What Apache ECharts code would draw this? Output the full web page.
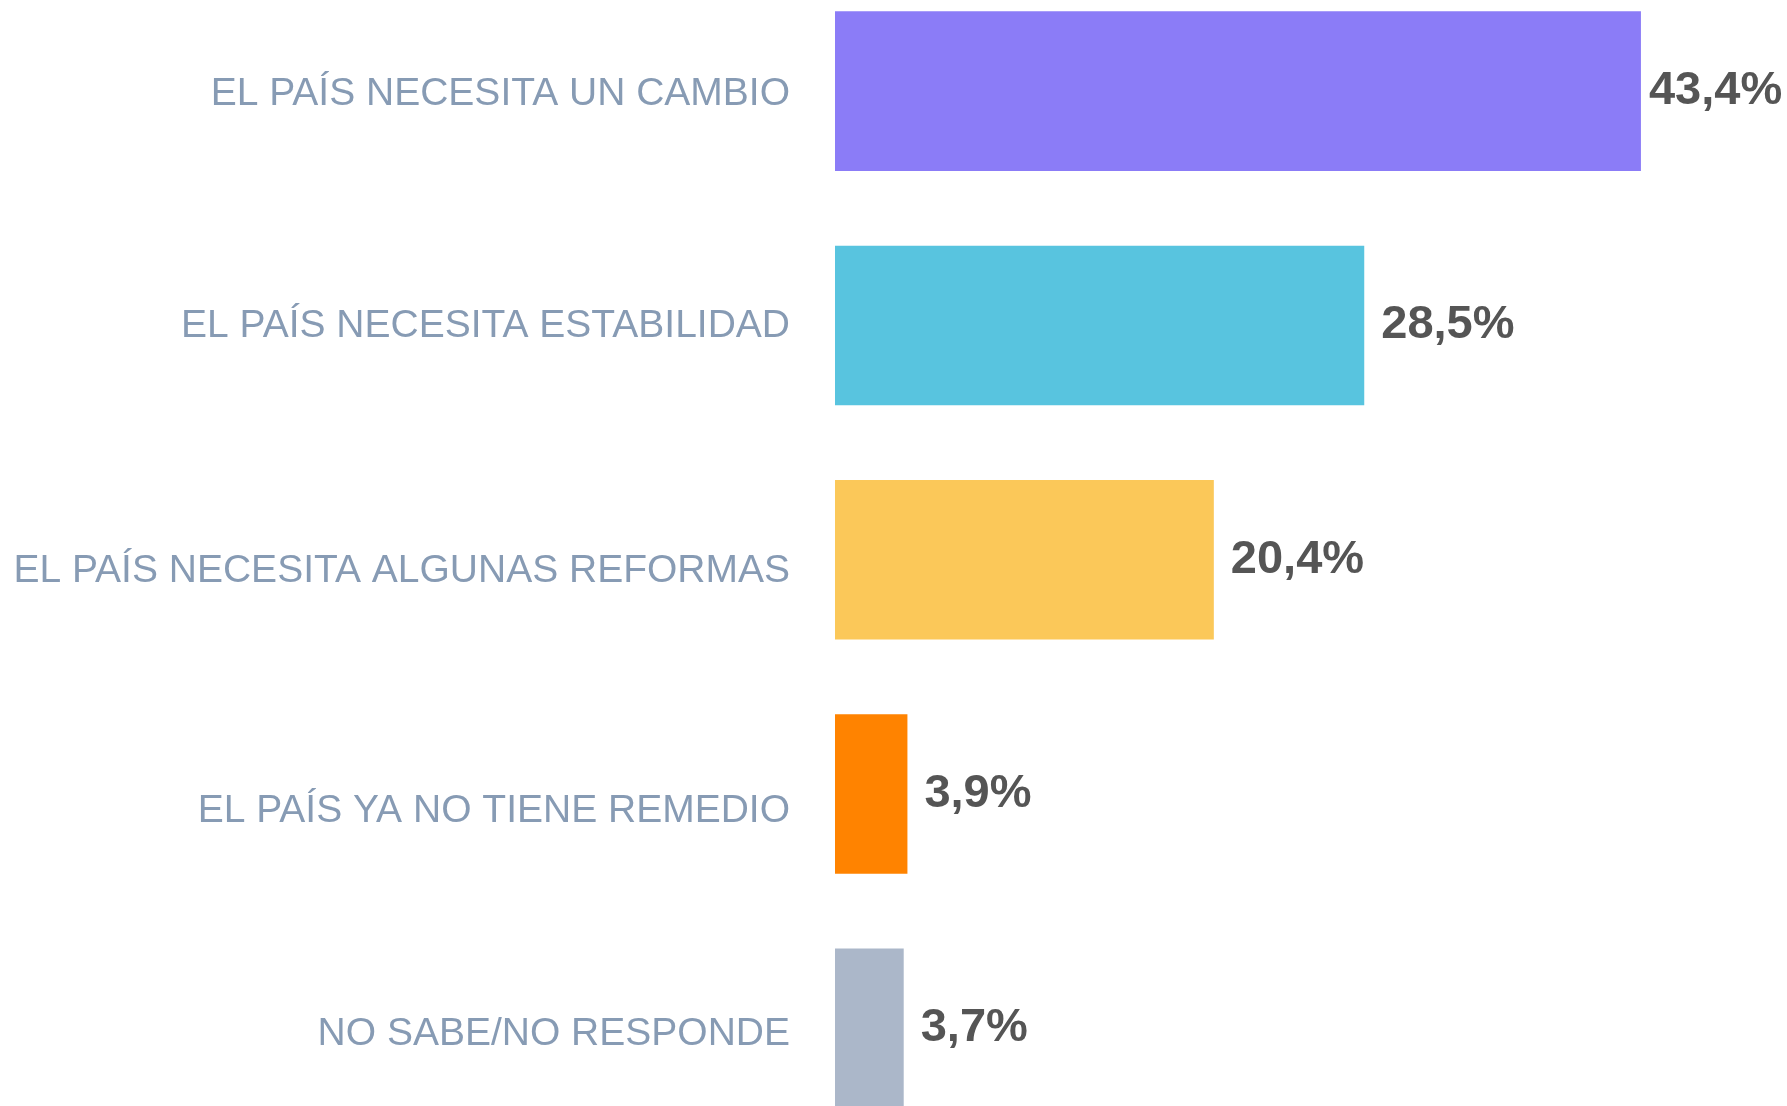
<!DOCTYPE html>
<html>
<head>
<meta charset="utf-8">
<title>Encuesta</title>
<script src="https://cdn.jsdelivr.net/npm/echarts@6/dist/echarts.min.js"></script>
<style>
html,body{margin:0;padding:0;background:#fff;}
#chart{width:1787px;height:1106px;}
</style>
</head>
<body>
<div id="chart"></div>
<script>
//categorias
var categorias = ['EL PAÍS NECESITA UN CAMBIO','EL PAÍS NECESITA ESTABILIDAD','EL PAÍS NECESITA ALGUNAS REFORMAS','EL PAÍS YA NO TIENE REMEDIO','NO SABE/NO RESPONDE'];
//valores (%)
var valores = [43.4,28.5,20.4,3.9,3.7];
//colores de cada barra
var colores = ['#8B7CF7','#58C4DF','#FBC859','#FF8300','#ABB7C9'];
//ajuste vertical de las etiquetas (px hacia abajo)
var bajarEtiqueta = [3,1,11,17,6];

var chart = echarts.init(document.getElementById('chart'));
var datos = [];
for(var i=0;i<valores.length;i++){
	var d = {value:valores[i],itemStyle:{color:colores[i]}};
	if(i==0){
		d.label = {distance:8};//la primera etiqueta va pegada
	}
	datos.push(d);
}
//estilos rich: un hueco encima del texto para bajarlo
var estilosRich = {t:{fontSize:39,lineHeight:45,color:'#879BB4',fontFamily:'Liberation Sans'}};
for(var j=0;j<bajarEtiqueta.length;j++){
	estilosRich['e'+j] = {fontSize:1,height:bajarEtiqueta[j]*2,lineHeight:bajarEtiqueta[j]*2};
}
var option = {
	animation:false,
	grid:{left:835,top:-26,width:928.5,height:1171.5,containLabel:false,outerBoundsMode:'none'},
	xAxis:{type:'value',min:0,max:50,show:false},
	yAxis:{
		type:'category',
		data:categorias,
		inverse:true,
		axisLine:{show:false},
		axisTick:{show:false},
		axisLabel:{
			margin:45,
			color:'#879BB4',
			fontFamily:'Liberation Sans',
			fontSize:39,
			formatter:function(v,idx){
				return '{e'+idx+'| }\n{t|'+v+'}';
			},
			rich:estilosRich
		}
	},
	series:[{
		type:'bar',
		data:datos,
		barCategoryGap:'31.9%',
		label:{
			show:true,
			position:'right',
			distance:17,
			color:'#555555',
			fontFamily:'Liberation Sans',
			fontWeight:'bold',
			fontSize:47,
			formatter:function(p){
				return p.value.toFixed(1).replace('.',',')+'%';
			}
		}
	}]
};
chart.setOption(option);
</script>
</body>
</html>
